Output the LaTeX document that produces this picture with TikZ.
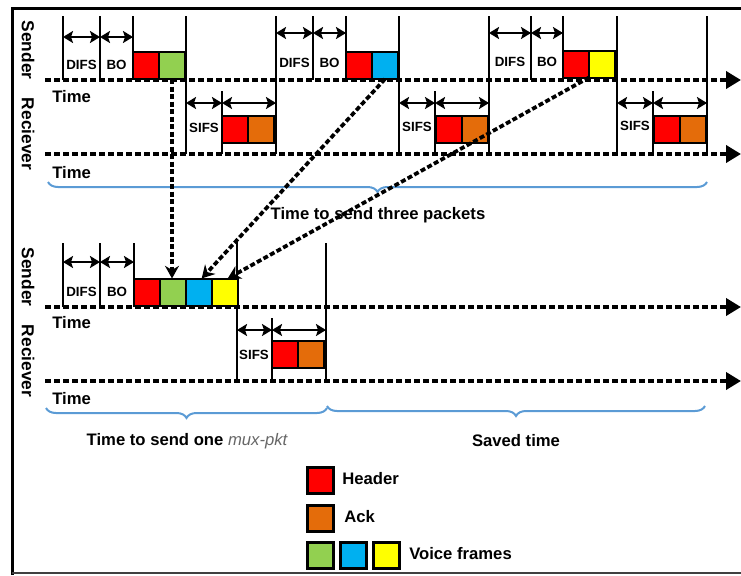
\documentclass[tikz,border=0pt]{standalone}
\usepackage{fontspec}
\setmainfont{Liberation Sans}
\usetikzlibrary{arrows.meta,decorations.pathreplacing}
\definecolor{hdr}{RGB}{255,0,0}
\definecolor{ackc}{RGB}{228,108,10}
\definecolor{vgreen}{RGB}{146,208,80}
\definecolor{vblue}{RGB}{0,176,240}
\definecolor{vyellow}{RGB}{255,255,0}
\definecolor{spanblue}{RGB}{91,155,213}
\begin{document}
\begin{tikzpicture}[x=0.75pt,y=-0.75pt,
  lbl/.style={font=\fontsize{12.5}{14}\selectfont\bfseries, inner sep=0pt},
  small/.style={font=\fontsize{10}{12}\selectfont\bfseries, inner sep=0pt},
  role/.style={font=\fontsize{13}{15}\selectfont\bfseries, inner sep=0pt, rotate=-90},
  timeaxis/.style={line width=3pt, dash pattern=on 4.5pt off 2.25pt, -{Triangle[length=11.25pt,width=12.75pt]}},
  tick/.style={line width=1.875pt},
  gap/.style={line width=1.7pt, {Stealth[length=7.5pt,width=9pt,inset=1.5pt]}-{Stealth[length=7.5pt,width=9pt,inset=1.5pt]}},
  cell/.style={draw, line width=1.5pt, minimum width=19.5pt, minimum height=20.25pt, inner sep=0pt, outer sep=0pt},
  key/.style={draw, line width=2.25pt, minimum width=19.5pt, minimum height=19.5pt, inner sep=0pt},
  trace/.style={line width=2.8pt, dash pattern=on 3.75pt off 1.875pt, -{Stealth[length=9.5pt,width=10.5pt]}},
  span/.style={draw=spanblue, line width=1.5pt, decorate, decoration={brace, mirror, amplitude=7.5pt}},
]
\useasboundingbox (0,0) rectangle (741,575);

% frame
\draw[line width=2.25pt] (12,575) -- (12,8) -- (741,8);
\draw[line width=1.5pt, black!75] (12,573) -- (741,573);

% ---------- three separate packets ----------
\node[role] (snd1) at (28,50) {Sender};
\node[role] (rcv1) at (28,134) {Reciever};
\draw[timeaxis] (45,80) -- (741,80);
\draw[timeaxis] (45,154) -- (741,154);
\node[lbl, anchor=west] (t1) at (52,97) {Time};
\node[lbl, anchor=west] (t2) at (52,173) {Time};

% slot boundaries
\foreach \x in {63,100,133,313,346,531,563}
  \draw[tick] (\x,16) -- (\x,80);
\foreach \x in {186,276,399,489,617,707}
  \draw[tick] (\x,16) -- (\x,154);
\foreach \x in {222,435,653}
  \draw[tick] (\x,91) -- (\x,154);

% interval arrows
\draw[gap] (63,37) -- (100,37);
\draw[gap] (100,37) -- (133,37);
\draw[gap] (276,33) -- (313,33);
\draw[gap] (313,33) -- (346,33);
\draw[gap] (489,33) -- (531,33);
\draw[gap] (531,33) -- (563,33);
\draw[gap] (186,103) -- (222,103);
\draw[gap] (222,103) -- (276,103);
\draw[gap] (399,103) -- (435,103);
\draw[gap] (435,103) -- (489,103);
\draw[gap] (617,103) -- (653,103);
\draw[gap] (653,103) -- (707,103);

\node[small] (d1) at (81.5,65) {DIFS};
\node[small] (b1) at (116.5,65) {BO};
\node[small] (d2) at (294.5,63) {DIFS};
\node[small] (b2) at (329.5,63) {BO};
\node[small] (d3) at (510,62) {DIFS};
\node[small] (b3) at (547,62) {BO};
\node[small] (s1) at (204,128) {SIFS};
\node[small] (s2) at (417,127) {SIFS};
\node[small] (s3) at (635,126) {SIFS};

% frames
\node[cell, fill=hdr] (h1) at (146,65.5) {};
\node[cell, fill=vgreen] (v1) at (172,65.5) {};
\node[cell, fill=hdr] (h2) at (359,65.5) {};
\node[cell, fill=vblue] (v2) at (385,65.5) {};
\node[cell, fill=hdr] (h3) at (576,64) {};
\node[cell, fill=vyellow] (v3) at (602,64) {};
\node[cell, fill=hdr] (ah1) at (235,129.5) {};
\node[cell, fill=ackc] (ak1) at (261,129.5) {};
\node[cell, fill=hdr] (ah2) at (448.5,129.5) {};
\node[cell, fill=ackc] (ak2) at (474.5,129.5) {};
\node[cell, fill=hdr] (ah3) at (667,129.5) {};
\node[cell, fill=ackc] (ak3) at (693,129.5) {};

\draw[span] (48,182) -- (707,182);
\node[lbl] (three) at (378,215) {Time to send three packets};

% ---------- one multiplexed packet ----------
\node[role] (snd2) at (28,277) {Sender};
\node[role] (rcv2) at (28,361) {Reciever};
\draw[timeaxis] (45,307) -- (741,307);
\draw[timeaxis] (45,381) -- (741,381);
\node[lbl, anchor=west] (t3) at (52,323) {Time};
\node[lbl, anchor=west] (t4) at (52,399) {Time};

\foreach \x in {63,100,134}
  \draw[tick] (\x,243) -- (\x,307);
\draw[tick] (237,242) -- (237,381);
\draw[tick] (272,318) -- (272,381);
\draw[tick] (326,243) -- (326,381);

\draw[gap] (63,262) -- (100,262);
\draw[gap] (100,262) -- (134,262);
\draw[gap] (237,330) -- (272,330);
\draw[gap] (272,330) -- (326,330);

\node[small] (d4) at (81.5,292) {DIFS};
\node[small] (b4) at (117,292) {BO};
\node[small] (s4) at (254,355) {SIFS};

\node[cell, fill=hdr] (mh) at (147,292) {};
\node[cell, fill=vgreen] (mv1) at (173,292) {};
\node[cell, fill=vblue] (mv2) at (199,292) {};
\node[cell, fill=vyellow] (mv3) at (225,292) {};
\node[cell, fill=hdr] (mah) at (285,354.5) {};
\node[cell, fill=ackc] (mak) at (311,354.5) {};

% voice frames gathered into one packet
\draw[trace] (v1.south) -- (v1.south |- mv1.north);
\draw[trace] (v2.south) -- ([xshift=2pt]mv2.north);
\draw[trace] (v3.south west) -- ([xshift=2pt]mv3.north);

\draw[span] (46,408) -- (327,408);
\draw[span] (327,406) -- (705,406);
\node[lbl] (one) at (187,441) {Time to send one {\mdseries\itshape\color{black!60}mux-pkt}};
\node[lbl] (saved) at (516,441) {Saved time};

% legend
\node[key, fill=hdr] (kh) at (320,480) {};
\node[lbl, anchor=west] (kht) at (342,479) {Header};
\node[key, fill=ackc] (ka) at (320,518) {};
\node[lbl, anchor=west] (kat) at (344,517) {Ack};
\node[key, fill=vgreen] (kg) at (320.5,555.5) {};
\node[key, fill=vblue] (kb) at (353,555.5) {};
\node[key, fill=vyellow] (ky) at (386,555.5) {};
\node[lbl, anchor=west] (kvt) at (409,554) {Voice frames};
\end{tikzpicture}
\end{document}
